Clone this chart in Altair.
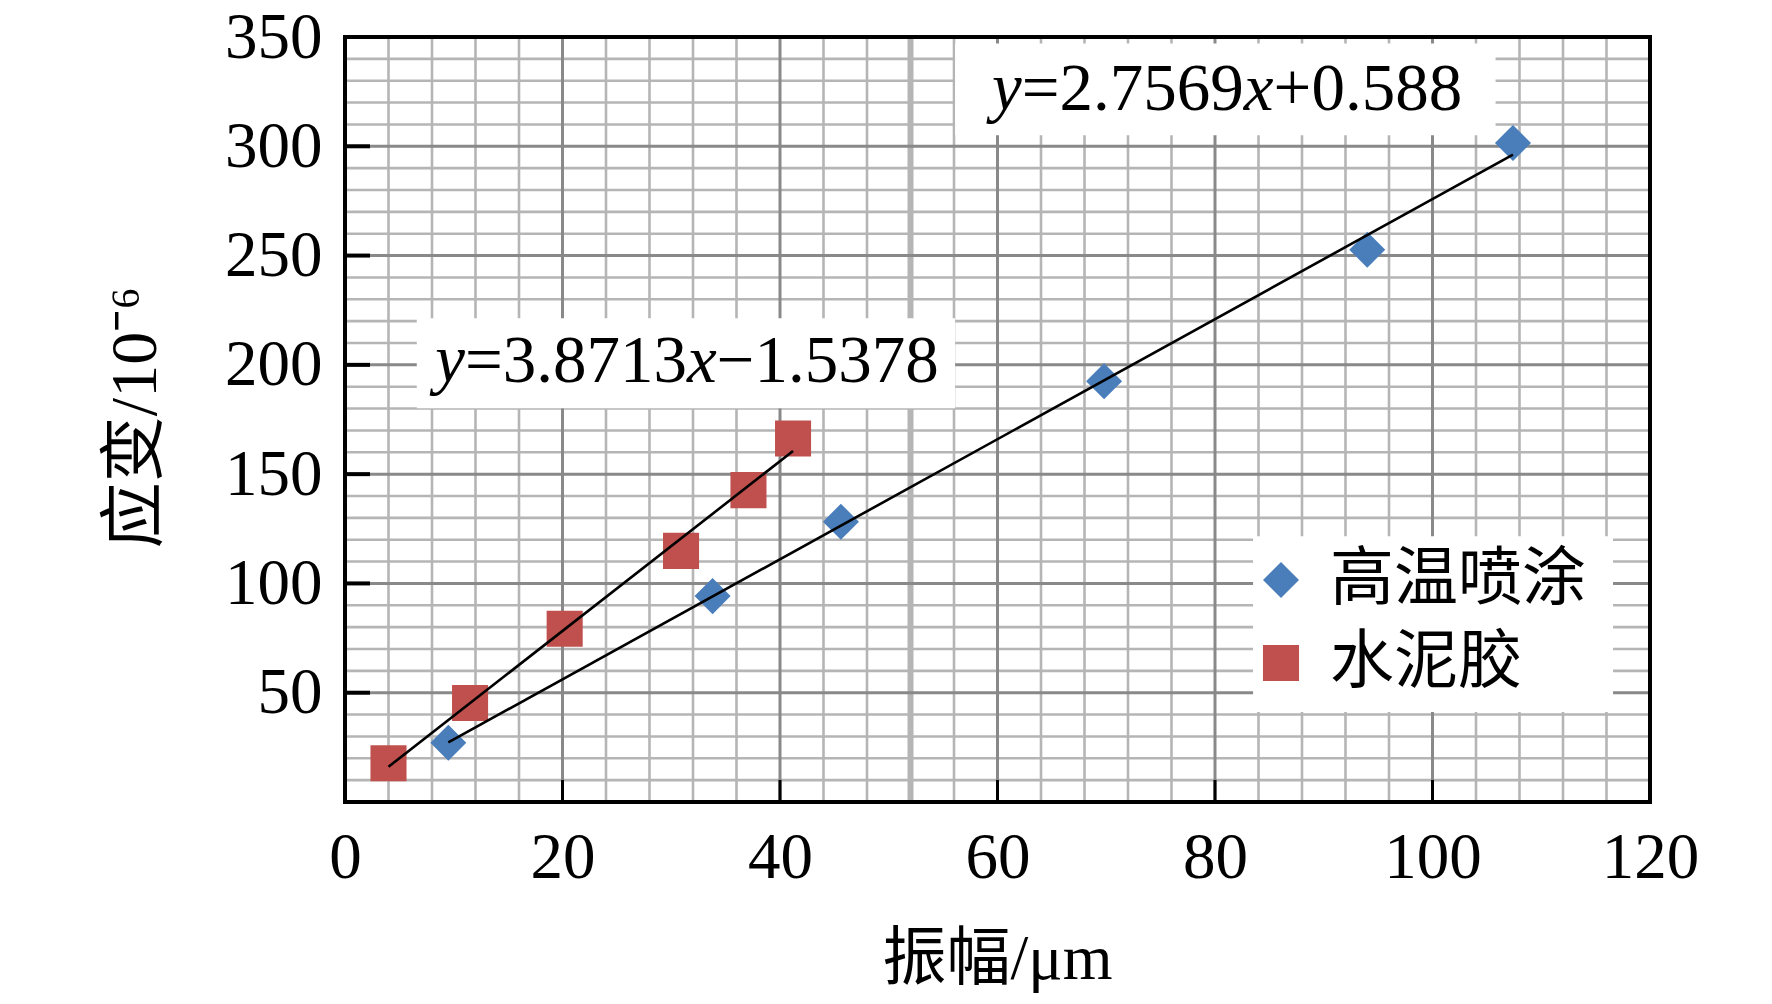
import altair as alt
import pandas as pd

# ---------------- data ----------------
series_names = ["高温喷涂", "水泥胶"]
series_colors = ["#4A7EBB", "#C0504D"]
series_shapes = ["diamond", "square"]

blue_x = [9.5, 33.8, 45.6, 69.8, 94.0, 107.4]
blue_y = [27.1, 94.2, 128.2, 192.5, 252.7, 301.5]
red_x = [4.0, 11.5, 20.2, 30.9, 37.1, 41.2]
red_y = [17.7, 45.3, 79.3, 114.9, 142.7, 166.3]

x_tick_labels = [0, 20, 40, 60, 80, 100, 120]
y_tick_labels = [50, 100, 150, 200, 250, 300, 350]
x_major_grid = [20, 40, 60, 80, 100]
x_minor_grid = [4, 8, 12, 16, 24, 28, 32, 36, 44, 48, 52, 56, 64, 68, 72, 76,
                84, 88, 92, 96, 104, 108, 112, 116]
x_thick_grid = [52]
y_major_grid = [50, 100, 150, 200, 250, 300]
y_minor_grid = [10, 20, 30, 40, 60, 70, 80, 90, 110, 120, 130, 140, 160, 170,
                180, 190, 210, 220, 230, 240, 260, 270, 280, 290, 310, 320,
                330, 340]
x_inner_ticks = [20, 40, 60, 80, 100]
y_inner_ticks = [50, 100, 150, 200, 250, 300]

# equation boxes / legend box (data units)
box_x1 = [56.1, 6.6, 83.5]
box_x2 = [105.8, 56.1, 116.6]
box_y1 = [305.0, 180.2, 41.2]
box_y2 = [347.0, 221.3, 121.6]

eq1_segments = ["y", "=2.7569", "x", "+0.588"]
eq2_segments = ["y", "=3.8713", "x", "\u22121.5378"]
eq_italic = [True, False, True, False]
eq_pos_x = [59.5, 8.3]
eq_pos_y = [316.4, 192.0]

x_title = "振幅/μm"
y_title = "应变/10⁻⁶"

# ---------------- layout ----------------
W, H = 1305, 765
SERIF = "Liberation Serif, Times New Roman, Noto Sans CJK SC"
XS = alt.Scale(domain=[0, 120], nice=False, zero=False)
YS = alt.Scale(domain=[0, 350], nice=False, zero=False)

AX = alt.Axis(
    values=x_tick_labels, grid=False, domain=False, ticks=False, tickSize=0,
    labelFont=SERIF, labelFontSize=65, labelColor="black",
    labelBaseline="alphabetic", labelPadding=75, labelFlush=False,
    labelOverlap=False, title=x_title, titleFont=SERIF, titleFontSize=64,
    titleFontWeight="normal", titleColor="black", titleX=652, titleY=176,
    titleBaseline="alphabetic", titleAlign="center",
)
AY = alt.Axis(
    values=y_tick_labels, grid=False, domain=False, ticks=False, tickSize=0,
    labelFont=SERIF, labelFontSize=65, labelColor="black",
    labelPadding=23, labelFlush=False, labelOverlap=False,
    title=y_title, titleFont=SERIF, titleFontSize=66,
    titleFontWeight="normal", titleColor="black", titleAngle=270,
    titleX=-190, titleY=380, titleBaseline="alphabetic", titleAlign="center",
)

pts = pd.DataFrame({
    "x": blue_x + red_x,
    "y": blue_y + red_y,
    "series": [series_names[0]] * len(blue_x) + [series_names[1]] * len(red_x),
})


def vrules(vals, color, width):
    return alt.Chart(pd.DataFrame({"v": vals})).mark_rule(
        color=color, strokeWidth=width
    ).encode(x=alt.X("v:Q", scale=XS, axis=AX))


def hrules(vals, color, width):
    return alt.Chart(pd.DataFrame({"v": vals})).mark_rule(
        color=color, strokeWidth=width
    ).encode(y=alt.Y("v:Q", scale=YS, axis=AY))


MINOR = "#B5B5B5"
MAJOR = "#898989"

grid = [
    vrules(x_minor_grid, MINOR, 2.6),
    hrules(y_minor_grid, MINOR, 2.6),
    vrules(x_thick_grid, MINOR, 6),
    vrules(x_major_grid, MAJOR, 3),
    hrules(y_major_grid, MAJOR, 3),
]

boxes = alt.Chart(pd.DataFrame({
    "x1": box_x1, "x2": box_x2, "y1": box_y1, "y2": box_y2
})).mark_rect(color="white", opacity=1).encode(
    x=alt.X("x1:Q", scale=XS, axis=AX),
    x2="x2:Q",
    y=alt.Y("y1:Q", scale=YS, axis=AY),
    y2="y2:Q",
)

LEG = alt.Legend(title=None, orient="none", legendX=892, legendY=499,
                 labelFont=SERIF, labelFontSize=64, labelColor="black",
                 labelLimit=0, symbolSize=1300, symbolStrokeWidth=0, padding=12,
                 rowPadding=19, labelOffset=17, labelBaseline="middle")

points = alt.Chart(pts).mark_point(
    filled=True, opacity=1, size=1300, strokeWidth=0
).encode(
    x=alt.X("x:Q", scale=XS, axis=AX),
    y=alt.Y("y:Q", scale=YS, axis=AY),
    color=alt.Color("series:N", scale=alt.Scale(domain=series_names, range=series_colors),
                    legend=LEG),
    shape=alt.Shape("series:N", scale=alt.Scale(domain=series_names, range=series_shapes),
                    legend=LEG),
)

fit = alt.Chart(pts).transform_regression(
    "x", "y", groupby=["series"]
).mark_line(color="black", strokeWidth=2.6).encode(
    x=alt.X("x:Q", scale=XS, axis=AX),
    y=alt.Y("y:Q", scale=YS, axis=AY),
    detail="series:N",
)

# equation text, segment by segment (italic y and x)
seg_em = {"y": 0.444, "x": 0.444}
FS = 67
texts = []
for segs, ex, ey in [(eq1_segments, eq_pos_x[0], eq_pos_y[0]),
                     (eq2_segments, eq_pos_x[1], eq_pos_y[1])]:
    off = 0.0
    for seg, it in zip(segs, eq_italic):
        df = pd.DataFrame({"x": [ex], "y": [ey], "t": [seg]})
        kw = dict(align="left", baseline="alphabetic", font="Liberation Serif",
                  fontSize=FS, color="black", dx=off * FS)
        if it:
            kw["fontStyle"] = "italic"
        texts.append(alt.Chart(df).mark_text(**kw).encode(
            x=alt.X("x:Q", scale=XS, axis=AX),
            y=alt.Y("y:Q", scale=YS, axis=AY),
            text="t:N",
        ))
        w = 0.0
        for ch in seg:
            if it:
                w += seg_em.get(ch, 0.5)
            elif ch in "=+\u2212":
                w += 0.564
            elif ch == ".":
                w += 0.25
            else:
                w += 0.5
        off += w

one = pd.DataFrame({"a": [0]})
frame = alt.Chart(one).mark_rect(filled=False, stroke="black", strokeWidth=4).encode(
    x=alt.value(0), x2=alt.value(W), y=alt.value(0), y2=alt.value(H)
)
xt = alt.Chart(pd.DataFrame({"v": x_inner_ticks})).mark_rule(
    color="black", strokeWidth=3
).encode(x=alt.X("v:Q", scale=XS, axis=AX), y=alt.value(H), y2=alt.value(H - 22))
yt = alt.Chart(pd.DataFrame({"v": y_inner_ticks})).mark_rule(
    color="black", strokeWidth=4
).encode(y=alt.Y("v:Q", scale=YS, axis=AY), x=alt.value(0), x2=alt.value(25))

chart = alt.layer(
    *grid, boxes, points, fit, *texts, frame, xt, yt
).properties(
    width=W, height=H,
    padding={"left": 337, "top": 29, "right": 100, "bottom": 200},
    autosize=alt.AutoSizeParams(type="none"),
).configure_view(strokeWidth=0).configure(background="white")

chart.save("out.html", embed_options={"renderer": "svg", "actions": False})
